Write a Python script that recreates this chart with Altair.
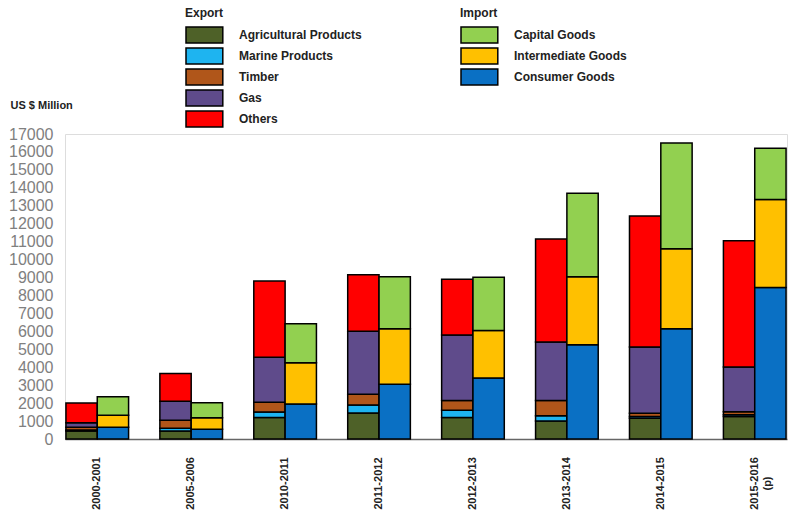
import altair as alt
import pandas as pd

years = ["2000-2001", "2005-2006", "2010-2011", "2011-2012", "2012-2013",
         "2013-2014", "2014-2015", "2015-2016 (p)"]

# Export (US $ Million)
agricultural = [450, 450, 1200, 1450, 1200, 1000, 1150, 1250]
marine = [50, 150, 300, 450, 400, 300, 100, 100]
timber = [150, 450, 550, 600, 550, 850, 180, 170]
gas = [250, 1050, 2500, 3500, 3650, 3250, 3700, 2500]
others = [1100, 1550, 4250, 3150, 3100, 5750, 7300, 7030]

# Import (US $ Million)
consumer = [650, 540, 1950, 3050, 3400, 5250, 6150, 8450]
intermediate = [680, 640, 2300, 3100, 2650, 3800, 4450, 4900]
capital = [1020, 840, 2180, 2900, 2970, 4650, 5900, 2850]

export_cats = ["Agricultural Products", "Marine Products", "Timber", "Gas", "Others"]
export_colors = ["#4E6128", "#1EB4F0", "#B0561A", "#5F4B8B", "#FF0000"]
import_cats = ["Capital Goods", "Intermediate Goods", "Consumer Goods"]
import_colors = ["#92D050", "#FFC000", "#0A70C4"]

export_series = [agricultural, marine, timber, gas, others]
import_series = [consumer, intermediate, capital]
import_stack = ["Consumer Goods", "Intermediate Goods", "Capital Goods"]

rows = []
for i, yr in enumerate(years):
    for j, (c, vals) in enumerate(zip(export_cats, export_series)):
        rows.append({"year": yr, "flow": "Export", "cat": c, "value": vals[i], "ord": j})
    for j, (c, vals) in enumerate(zip(import_stack, import_series)):
        rows.append({"year": yr, "flow": "Import", "cat": c, "value": vals[i], "ord": j})
df = pd.DataFrame(rows)

FONT = "Liberation Sans"
rect_path = "M-1,-1H3.6V1H-1Z"

x_enc = alt.X(
    "year:N", sort=years,
    scale=alt.Scale(paddingInner=0.333, paddingOuter=0.01),
    axis=alt.Axis(
        title=None, ticks=False, domainColor="#666666", domainWidth=1.5,
        labelAngle=270, labelAlign="center", labelBaseline="middle",
        labelPadding=44, labelFont=FONT, labelFontSize=11, labelFontWeight="bold",
        labelColor="#222222", labelOverlap=False,
        labelExpr="datum.label == '2015-2016 (p)' ? ['2015-2016', '(p)'] : datum.label",
    ),
)
xo_enc = alt.XOffset("flow:N", scale=alt.Scale(domain=["Export", "Import"], paddingInner=0, paddingOuter=0))
y_enc = alt.Y(
    "value:Q", stack="zero",
    scale=alt.Scale(domain=[0, 17000], nice=False),
    axis=alt.Axis(
        values=list(range(0, 17001, 1000)), format="d", grid=False, domain=False, ticks=False,
        labelColor="#808080", labelFont=FONT, labelFontSize=16, labelPadding=12,
        title="US $ Million", titleAngle=0, titleX=-55, titleY=-29,
        titleAlign="left", titleBaseline="middle", titleFont=FONT,
        titleFontSize=11, titleFontWeight="bold", titleColor="#222222",
    ),
)


def legend(title, lx):
    return alt.Legend(
        title=title, orient="none", legendX=lx - 3, legendY=-129,
        symbolType=rect_path, symbolSize=256, symbolStrokeColor="black",
        symbolStrokeWidth=1.5, symbolOpacity=1,
        labelFont=FONT, labelFontSize=12, labelFontWeight="bold", labelColor="#222222",
        labelOffset=36, rowPadding=-1, padding=3,
        titleFont=FONT, titleFontSize=12, titleFontWeight="bold", titleColor="#222222",
        titlePadding=6,
    )


exp = alt.Chart(df).transform_filter(alt.datum.flow == "Export").mark_bar(
    stroke="black", strokeWidth=1.5, opacity=1
).encode(
    x=x_enc, xOffset=xo_enc, y=y_enc,
    color=alt.Color("cat:N", scale=alt.Scale(domain=export_cats, range=export_colors),
                    legend=legend("Export", 120)),
    order=alt.Order("ord:Q"),
)

imp = alt.Chart(df).transform_filter(alt.datum.flow == "Import").mark_bar(
    stroke="black", strokeWidth=1.5, opacity=1
).encode(
    x=x_enc, xOffset=xo_enc, y=y_enc,
    color=alt.Color("cat:N", scale=alt.Scale(domain=import_cats, range=import_colors),
                    legend=legend("Import", 395)),
    order=alt.Order("ord:Q"),
)

chart = alt.layer(exp, imp).resolve_scale(color="independent").properties(
    width=722, height=305, autosize="none",
    padding={"left": 57, "top": 126, "right": 10, "bottom": 90},
).configure_view(stroke=None).configure(background="white")

chart.save("out.html", embed_options={"renderer": "svg", "actions": False})
